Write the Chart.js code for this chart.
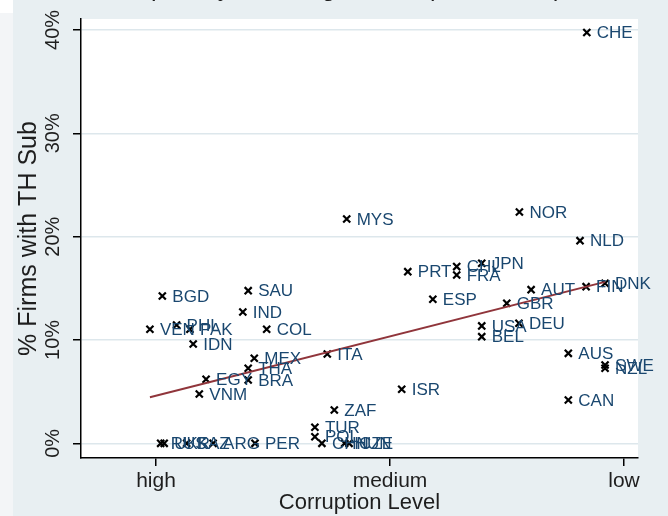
<!DOCTYPE html>
<html>
<head>
<meta charset="utf-8">
<script src="https://cdn.jsdelivr.net/npm/chart.js@4/dist/chart.umd.min.js"></script>
<style>
  html, body { margin: 0; padding: 0; background: #ffffff; }
  #wrap { width: 668px; height: 516px; position: relative; }
</style>
</head>
<body>
<div id="wrap"><canvas id="chart" width="668" height="516"></canvas></div>
<script>
// Country codes, corruption position (1 = high, 2 = medium, 3 = low) and share of firms with a tax-haven subsidiary (%)
const countries = ['VEN','BGD','PHL','PAK','IDN','VNM','EGY','IND','SAU','THA','BRA','MEX','COL',
  'ITA','MYS','ZAF','TUR','POL','ISR','PRT','ESP','CHL','FRA','JPN','USA','BEL','GBR','DEU','NOR',
  'AUT','AUS','CAN','NLD','CHE','FIN','DNK','SWE','NZL','RUS','UKR','KAZ','ARG','PER','CHN','HUN','CZE'];
const corruption = [0.974,1.027,1.088,1.145,1.159,1.185,1.214,1.371,1.394,1.394,1.394,1.420,1.473,
  1.732,1.815,1.762,1.679,1.679,2.050,2.076,2.183,2.285,2.285,2.392,2.392,2.392,2.499,2.551,2.553,
  2.603,2.762,2.762,2.812,2.841,2.838,2.919,2.919,2.919,1.020,1.035,1.131,1.244,1.423,1.709,1.806,1.825];
const firmShare = [11.04,14.26,11.45,11.04,9.61,4.77,6.20,12.71,14.77,7.26,6.13,8.23,11.04,
  8.64,21.71,3.22,1.55,0.64,5.23,16.61,13.94,17.10,16.29,17.42,11.36,10.32,13.55,11.62,22.39,
  14.87,8.71,4.19,19.61,39.75,15.16,15.49,7.58,7.26,0,0,0,0,0,0,0,0];

// Linear fit end points
const fitX = [0.974, 2.919];
const fitY = [4.45, 15.62];

// Axis ticks
const xTickValues = [1, 2, 3];
const xTickLabels = ['high', 'medium', 'low'];
const yTickValues = [0, 10, 20, 30, 40];

const FONT = "'Liberation Sans', Arial, Helvetica, sans-serif";
const LABEL_BLUE = '#1a476f';
const GRID = '#dde7ec';
const TITLE_MAIN = 'Tax Haven Propensity of Foreign Firms ';
const TITLE_YEARS = '(2000-2010)';

const points = corruption.map((x, i) => ({ x: x, y: firmShare[i] }));
const fitPoints = fitX.map((x, i) => ({ x: x, y: fitY[i] }));

const backdrop = {
  id: 'backdrop',
  beforeDraw(chart) {
    const { ctx, width, height, chartArea } = chart;
    ctx.save();
    ctx.fillStyle = '#e8eff2';
    ctx.fillRect(0, 0, width, height);
    ctx.fillStyle = '#f3f5f7';
    ctx.fillRect(0, 13, 13, height - 13);
    ctx.fillStyle = '#ffffff';
    ctx.fillRect(0, 0, 13, 13);
    ctx.fillRect(chartArea.left, chartArea.top, chartArea.right - chartArea.left, chartArea.bottom - chartArea.top);
    // Graph title, sitting almost entirely above the top edge of the canvas
    ctx.fillStyle = '#1e1e1e';
    ctx.font = '25px ' + FONT;
    ctx.textAlign = 'left';
    ctx.textBaseline = 'alphabetic';
    const startX = 426 - ctx.measureText(TITLE_MAIN).width;
    ctx.fillText(TITLE_MAIN + TITLE_YEARS, startX, -4);
    ctx.restore();
  }
};

const pointLabels = {
  id: 'pointLabels',
  afterDatasetsDraw(chart) {
    const meta = chart.getDatasetMeta(0);
    const { ctx } = chart;
    ctx.save();
    ctx.fillStyle = LABEL_BLUE;
    ctx.font = '17px ' + FONT;
    ctx.textAlign = 'left';
    ctx.textBaseline = 'middle';
    meta.data.forEach((el, i) => {
      ctx.fillText(countries[i], el.x + 10, el.y + 1);
    });
    ctx.restore();
  }
};

new Chart(document.getElementById('chart'), {
  type: 'scatter',
  data: {
    datasets: [
      {
        label: 'Firms',
        data: points,
        pointStyle: 'crossRot',
        pointRadius: 5,
        pointHoverRadius: 5,
        borderColor: '#000000',
        backgroundColor: '#000000',
        pointBorderWidth: 2.2,
        order: 1
      },
      {
        label: 'Fitted values',
        type: 'line',
        data: fitPoints,
        borderColor: '#90353b',
        borderWidth: 2,
        pointRadius: 0,
        fill: false,
        order: 0
      }
    ]
  },
  options: {
    responsive: false,
    animation: false,
    devicePixelRatio: 1,
    layout: { padding: { left: 14, top: 19, right: 30, bottom: 0 } },
    plugins: {
      legend: { display: false },
      tooltip: { enabled: false },
      title: { display: false }
    },
    scales: {
      x: {
        type: 'linear',
        min: 0.6795,
        max: 3.0598,
        afterFit(scale) { scale.height = 58; },
        afterBuildTicks(scale) { scale.ticks = xTickValues.map(v => ({ value: v })); },
        border: { display: true, color: '#000000', width: 1.5 },
        grid: { display: true, drawOnChartArea: false, drawTicks: true, tickLength: 8, color: '#000000', lineWidth: 1.5 },
        ticks: {
          color: '#1e1e1e',
          font: { family: FONT, size: 21 },
          padding: 3,
          maxRotation: 0,
          autoSkip: false,
          callback: (v) => xTickLabels[xTickValues.indexOf(v)]
        },
        title: {
          display: true,
          text: 'Corruption Level',
          color: '#1e1e1e',
          font: { family: FONT, size: 22 },
          padding: { top: 0, bottom: 0 }
        }
      },
      y: {
        type: 'linear',
        min: -1.42,
        max: 41.06,
        afterFit(scale) { scale.width = 67; },
        afterBuildTicks(scale) { scale.ticks = yTickValues.map(v => ({ value: v })); },
        border: { display: true, color: '#000000', width: 1.5 },
        grid: { display: true, drawOnChartArea: true, drawTicks: true, tickLength: 8, color: GRID, tickColor: '#000000', lineWidth: 1.5 },
        ticks: {
          color: '#1e1e1e',
          font: { family: FONT, size: 20 },
          padding: 0,
          minRotation: 90,
          maxRotation: 90,
          crossAlign: 'center',
          autoSkip: false,
          callback: (v) => v + '%'
        },
        title: {
          display: true,
          text: '% Firms with TH Sub',
          color: '#1e1e1e',
          font: { family: FONT, size: 25 },
          padding: { top: 0, bottom: 0 }
        }
      }
    }
  },
  plugins: [backdrop, pointLabels]
});
</script>
</body>
</html>
